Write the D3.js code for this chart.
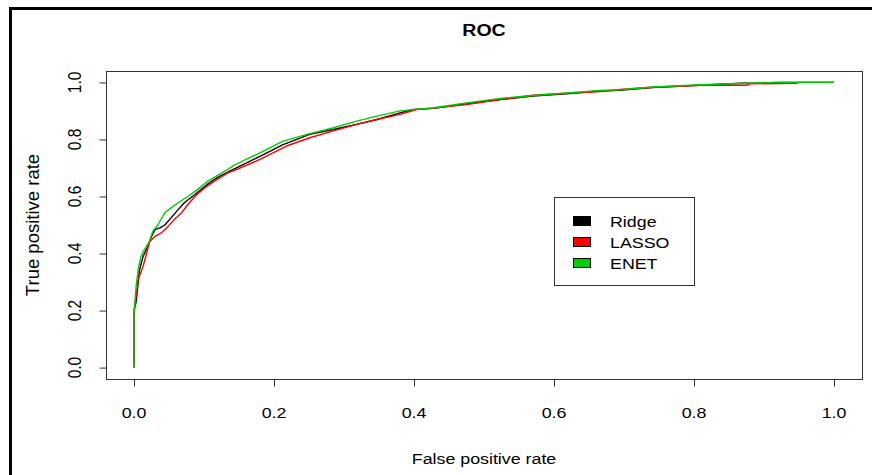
<!DOCTYPE html>
<html>
<head>
<meta charset="utf-8">
<script src="https://cdn.jsdelivr.net/npm/d3@7"></script>
<style>
  body { margin: 0; background: #fff; }
  svg text { font-family: "Liberation Sans", Arial, sans-serif; fill: #000; }
</style>
</head>
<body>
<svg id="chart" width="872" height="475"></svg>
<script>
// ROC points, [false positive rate, true positive rate]
var ridgePoints = [[0,0],[0,0.2],[0.003,0.23],[0.008,0.344],[0.013,0.39],[0.02,0.426],[0.025,0.46],[0.03,0.484],
  [0.037,0.49],[0.044,0.5],[0.053,0.525],[0.063,0.554],[0.072,0.578],[0.087,0.607],[0.106,0.645],[0.12,0.668],
  [0.142,0.695],[0.18,0.741],[0.213,0.782],[0.251,0.818],[0.285,0.835],[0.318,0.853],[0.347,0.87],[0.38,0.893],
  [0.399,0.905],[0.428,0.909],[0.475,0.925],[0.523,0.94],[0.57,0.952],[0.618,0.96],[0.666,0.97],[0.694,0.972],
  [0.741,0.982],[0.809,0.99],[0.868,0.997],[0.886,0.997],[0.918,1],[1,1]];
var lassoPoints = [[0,0],[0,0.19],[0.003,0.25],[0.006,0.31],[0.013,0.355],[0.018,0.4],[0.022,0.44],[0.03,0.46],
  [0.039,0.472],[0.049,0.496],[0.058,0.52],[0.068,0.543],[0.077,0.572],[0.087,0.6],[0.101,0.63],[0.115,0.654],
  [0.134,0.683],[0.142,0.69],[0.18,0.73],[0.218,0.777],[0.251,0.806],[0.285,0.83],[0.318,0.853],[0.347,0.87],
  [0.38,0.888],[0.404,0.905],[0.428,0.91],[0.475,0.922],[0.523,0.94],[0.57,0.955],[0.618,0.962],[0.666,0.968],
  [0.694,0.975],[0.741,0.983],[0.808,0.99],[0.875,0.99],[0.88,0.995],[0.946,0.997],[0.95,1],[1,1]];
var enetPoints = [[0,0],[0,0.19],[0.003,0.285],[0.006,0.344],[0.01,0.39],[0.015,0.414],[0.022,0.443],[0.027,0.478],
  [0.034,0.5],[0.044,0.543],[0.053,0.56],[0.063,0.578],[0.077,0.6],[0.091,0.625],[0.106,0.655],[0.12,0.675],
  [0.134,0.695],[0.142,0.708],[0.16,0.73],[0.18,0.753],[0.213,0.794],[0.247,0.818],[0.285,0.841],[0.318,0.864],
  [0.347,0.882],[0.38,0.9],[0.428,0.911],[0.475,0.928],[0.523,0.944],[0.57,0.954],[0.618,0.963],[0.666,0.972],
  [0.694,0.974],[0.741,0.984],[0.809,0.992],[0.918,1],[1,1]];

var seriesNames = ["Ridge", "LASSO", "ENET"];
var seriesColors = ["#000000", "#ff0000", "#00cd00"];
var ticks = [0, 0.2, 0.4, 0.6, 0.8, 1.0];

var svg = d3.select("#chart");
var box = {left: 106, top: 71, right: 862, bottom: 379};
var stretch = 1.15; // the reference is a little wider than tall

// R adds 4% on each side of the data range
var x = d3.scaleLinear().domain([-0.04, 1.04]).range([box.left, box.right]);
var y = d3.scaleLinear().domain([-0.04, 1.04]).range([box.bottom, box.top]);

svg.append("rect").attr("width", 872).attr("height", 475).attr("fill", "#fff");

// outer frame (left and top edges only)
svg.append("path")
  .attr("d", "M10.5,475V8.5H872")
  .attr("fill", "none").attr("stroke", "#000").attr("stroke-width", 3);

function label(txt, px, py, size, rot, weight, sx) {
  svg.append("text")
    .attr("transform", "translate(" + px + "," + py + ") scale(" + (sx || stretch) + ",1)" + (rot ? " rotate(-90)" : ""))
    .attr("text-anchor", "middle")
    .attr("dy", "0.36em")
    .style("font-size", size + "px")
    .style("font-weight", weight || "normal")
    .text(txt);
}

// curves: ridge first, enet on top
var line = d3.line().x(function(d){ return x(d[0]); }).y(function(d){ return y(d[1]); });
[ridgePoints, lassoPoints, enetPoints].forEach(function(pts, i) {
  svg.append("path")
    .attr("d", line(pts))
    .attr("fill", "none")
    .attr("stroke", seriesColors[i])
    .attr("stroke-width", 1.4)
    .attr("stroke-linejoin", "round");
});

// plot box
svg.append("rect")
  .attr("x", box.left + 0.5).attr("y", box.top + 0.5)
  .attr("width", box.right - box.left).attr("height", box.bottom - box.top)
  .attr("fill", "none").attr("stroke", "#333").attr("stroke-width", 1);

// axes
var gx = svg.append("g").attr("transform", "translate(0," + (box.bottom + 0.5) + ")")
  .call(d3.axisBottom(x).tickValues(ticks).tickSize(7).tickSizeOuter(0).tickFormat(function(d){ return ""; }));
var gy = svg.append("g").attr("transform", "translate(" + (box.left + 0.5) + ",0)")
  .call(d3.axisLeft(y).tickValues(ticks).tickSize(7).tickSizeOuter(0).tickFormat(function(d){ return ""; }));
[gx, gy].forEach(function(g) {
  g.select(".domain").remove();
  g.selectAll("line").attr("stroke", "#333");
});
ticks.forEach(function(t) {
  label(d3.format(".1f")(t), x(t), 412, 15.5, false);
  label(d3.format(".1f")(t), 75, y(t), 15.5, true);
});

label("ROC", (box.left + box.right) / 2, 30, 17, false, "bold");
label("False positive rate", (box.left + box.right) / 2, 458, 15.5, false);
label("True positive rate", 32, (box.top + box.bottom) / 2, 18.5, true, "normal", 1);

// legend
var lg = svg.append("g").attr("transform", "translate(554,197)");
lg.append("rect").attr("x", 0.5).attr("y", 0.5).attr("width", 140).attr("height", 88)
  .attr("fill", "#fff").attr("stroke", "#333");
seriesNames.forEach(function(name, i) {
  var cy = 24 + i * 21;
  lg.append("rect").attr("x", 19.5).attr("y", cy - 4.5).attr("width", 17).attr("height", 9)
    .attr("fill", seriesColors[i]).attr("stroke", "#000");
  lg.append("text")
    .attr("transform", "translate(56," + cy + ") scale(" + stretch + ",1)")
    .attr("dy", "0.36em")
    .style("font-size", "15.5px")
    .text(name);
});
</script>
</body>
</html>
